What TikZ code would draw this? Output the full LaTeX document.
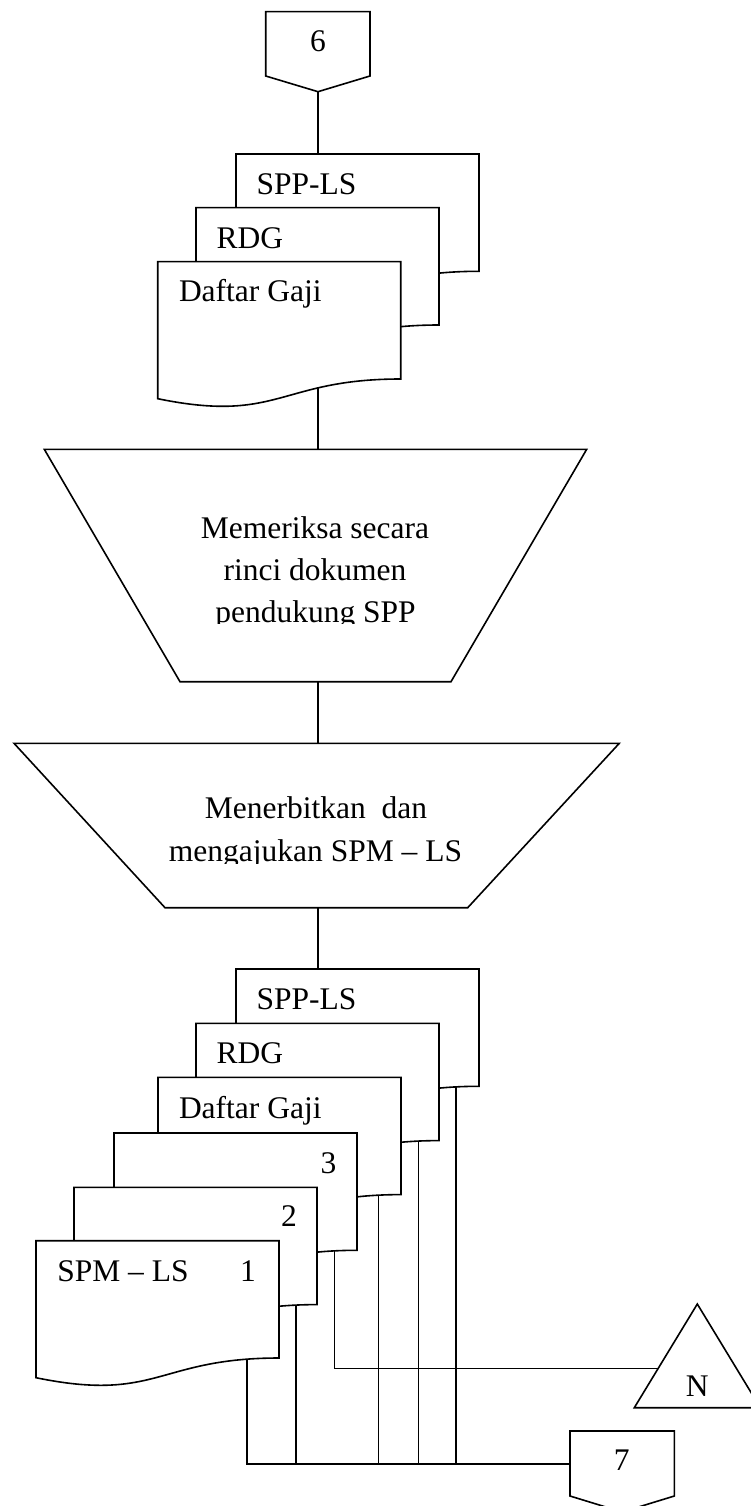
\documentclass[tikz,border=0pt]{standalone}
\usepackage{fontspec}
\setmainfont{Liberation Serif}
\usetikzlibrary{backgrounds}

% document symbol with a wavy lower edge; #1 name, #2 left, #3 top, #4 x of the outgoing line
\newcommand{\docsym}[4]{%
  \begin{scope}[shift={(#2,#3)}]
    \draw[shape line] (0,0) -- (243,0) -- (243,117.3)
      .. controls (121.5,117.3) and (121.5,162) .. (0,137) -- cycle;
    \coordinate (#1) at (0,0);
    \coordinate (#1-out) at (#4,60);
  \end{scope}}

\begin{document}
\begin{tikzpicture}[x=1pt,y=-1pt,
  shape line/.style={draw=black, fill=white, line width=1.6pt, line join=miter},
  link/.style={draw=black, line width=1.6pt},
  txt/.style={inner sep=0pt, outer sep=0pt, font=\fontsize{31.5}{40}\selectfont},
  lbl/.style={txt, anchor=base west},
  ctr/.style={txt, anchor=base}]
\useasboundingbox (0,0) rectangle (750,1506);

% off-page connector 6
\draw[shape line] (265.7,11.7) -- (370,11.7) -- (370,76) -- (318,91.7) -- (265.7,76) -- cycle;
\coordinate (c6-tip) at (318,91.7);
\node[ctr] (c6) at (318,51.7) {6};

% first stack of documents
\docsym{a1}{236}{154}{160}
\docsym{a2}{196}{207.7}{160}
\docsym{a3}{157.7}{261.7}{160.3}
\node[lbl] (a1txt) at (256.7,194.3) {SPP-LS};
\node[lbl] (a2txt) at (216.7,248.3) {RDG};
\node[lbl] (a3txt) at (179,301.7) {Daftar Gaji};

% manual operation: checking
\draw[shape line] (44.3,449.3) -- (586.7,449.3) -- (451,681.7) -- (180,681.7) -- cycle;
\coordinate (t1-top) at (318,449.3);
\coordinate (t1-bot) at (318,681.7);
\begin{scope}
  \clip (0,440) rectangle (750,623.5);
  \node[ctr] (t1a) at (315,538) {Memeriksa secara};
  \node[ctr] (t1b) at (315,580) {rinci dokumen};
  \node[ctr] (t1c) at (315.5,622) {pendukung SPP};
\end{scope}

% manual operation: issuing
\draw[shape line] (14,743.3) -- (619.3,743.3) -- (467.7,907.7) -- (165,907.7) -- cycle;
\coordinate (t2-top) at (318,743.3);
\coordinate (t2-bot) at (318,907.7);
\begin{scope}
  \clip (0,740) rectangle (750,863.3);
  \node[ctr] (t2a) at (316,818.3) {Menerbitkan\ \ dan};
  \node[ctr] (t2b) at (315.5,861) {mengajukan SPM -- LS};
\end{scope}

% second stack of documents
\docsym{b1}{236}{969}{220}
\docsym{b2}{196}{1023.3}{222.3}
\docsym{b3}{158}{1077.3}{220.3}
\docsym{b4}{114}{1133}{220.3}
\docsym{b5}{74}{1187.3}{222}
\docsym{b6}{36}{1240.7}{210.7}
\node[lbl] (b1txt) at (256.7,1009.3) {SPP-LS};
\node[lbl] (b2txt) at (216.7,1063.3) {RDG};
\node[lbl] (b3txt) at (179,1118.3) {Daftar Gaji};
\node[lbl] (b4txt) at (320.7,1173.3) {3};
\node[lbl] (b5txt) at (281,1226.7) {2};
\node[lbl] (b6txt) at (57.3,1281.7) {SPM -- LS};
\node[lbl] (b6num) at (240,1281.7) {1};

% file N
\draw[shape line] (634.3,1407.7) -- (697.3,1304) -- (760.3,1407.7) -- cycle;
\coordinate (n-in) at (697.3,1368.3);
\node[ctr] (ntxt) at (697.3,1396.7) {N};

% off-page connector 7
\draw[shape line] (570,1431) -- (674.3,1431) -- (674.3,1496) -- (622.2,1512) -- (570,1496) -- cycle;
\coordinate (c7-in) at (570,1464);
\node[ctr] (c7) at (621.7,1470) {7};

% flow lines
\begin{scope}[on background layer]
  \draw[link] (c6-tip) -- (c6-tip |- a1);
  \draw[link] (a3-out) -- (t1-top);
  \draw[link] (t1-bot) -- (t2-top);
  \draw[link] (t2-bot) -- (t2-bot |- b1);
  \draw[link] (b1-out) -- (b1-out |- c7-in);
  \draw[link] (b2-out) -- (b2-out |- c7-in);
  \draw[link] (b3-out) -- (b3-out |- c7-in);
  \draw[link] (b5-out) -- (b5-out |- c7-in);
  \draw[link] (b4-out) |- (n-in);
  \draw[link] (b6-out) |- (c7-in);
\end{scope}
\end{tikzpicture}
\end{document}
